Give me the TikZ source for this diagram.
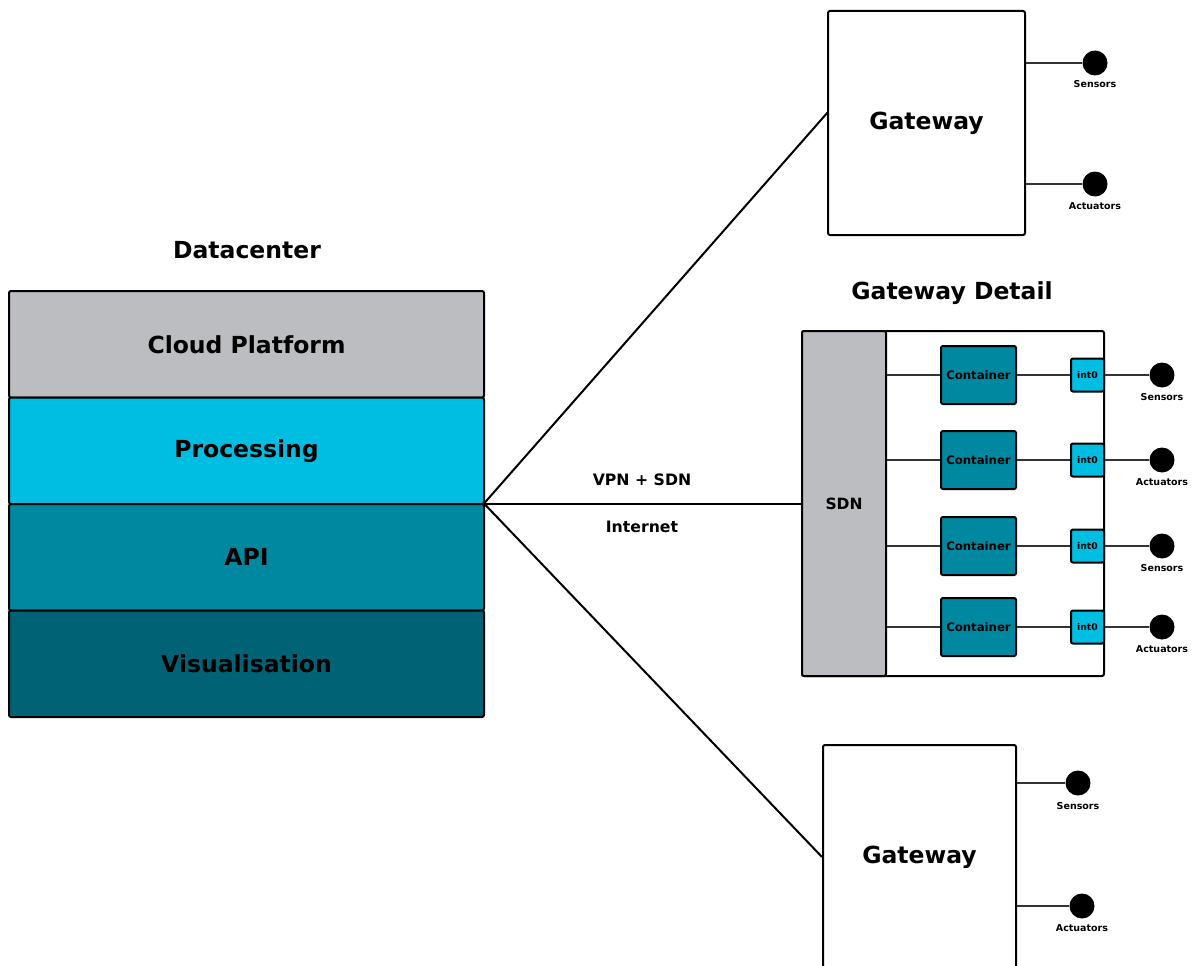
\documentclass[tikz,border=0pt]{standalone}
\usepackage{fontspec}
\setmainfont{DejaVu Sans}
\definecolor{cloudgray}{RGB}{188,189,193}
\definecolor{proccyan}{RGB}{0,189,226}
\definecolor{apiteal}{RGB}{0,136,160}
\definecolor{visteal}{RGB}{0,99,117}
\begin{document}
\begin{tikzpicture}[x=1pt,y=-1pt,
  box/.style={draw, line width=2pt, rounded corners=2pt, inner sep=0pt},
  layer/.style={box, minimum width=475pt, minimum height=106.5pt, font=\fontsize{23.5}{23.5}\selectfont\bfseries},
  title/.style={font=\fontsize{23.5}{23.5}\selectfont\bfseries},
  gwbox/.style={box, fill=white, minimum height=224pt, font=\fontsize{23.5}{23.5}\selectfont\bfseries},
  ctr/.style={box, fill=apiteal, minimum width=75pt, minimum height=58pt, font=\fontsize{11.7}{11.7}\selectfont\bfseries},
  iface/.style={box, fill=proccyan, minimum width=33pt, minimum height=33pt, font=\fontsize{9.3}{9.3}\selectfont\bfseries},
  endpt/.style={circle, fill=black, minimum size=25pt, inner sep=0pt},
  tiny/.style={font=\fontsize{9.5}{9.5}\selectfont\bfseries},
  midlbl/.style={font=\fontsize{15.7}{15.7}\selectfont\bfseries},
  link/.style={line width=2pt, black},
  wire/.style={line width=1.6pt, black!80}
]
\clip (0,0) rectangle (1192,966);
\fill[white] (0,0) rectangle (1192,966);

% Datacenter stack
\node[title] (dctitle) at (247,250) {Datacenter};
\node[layer, fill=cloudgray] (cloud) at (246.5,344.25) {Cloud Platform};
\node[layer, fill=proccyan]  (proc)  at (246.5,450.75) {Processing};
\node[layer, fill=apiteal]   (api)   at (246.5,557.25) {API};
\node[layer, fill=visteal]   (vis)   at (246.5,663.75) {Visualisation};
\coordinate (hub) at (484,503.5);

% Gateways
\node[gwbox, minimum width=197pt] (gw1) at (926.5,123) {Gateway};
\node[gwbox, minimum width=193pt] (gw2) at (919.5,857) {Gateway};
\coordinate (gw1in) at (828,112);

% Gateway detail
\node[title] (gdtitle) at (952,293) {Gateway Detail};
\node[box, minimum width=302pt, minimum height=345pt] (detail) at (953,503.5) {};
\node[box, fill=cloudgray, minimum width=84pt, minimum height=345pt,
      font=\fontsize{15.5}{15.5}\selectfont\bfseries] (sdn) at (844,503.5) {SDN};

% Links from the datacenter
\draw[link] (hub) -- (gw1in);
\draw[link] (hub) -- (sdn.west);
\draw[link] (hub) -- (gw2.west);
\node[midlbl] (vpn) at (642,480) {VPN + SDN};
\node[midlbl] (inet) at (642,527) {Internet};

% Container rows
\foreach \i/\y/\lbl in {1/375/Sensors, 2/460/Actuators, 3/546/Sensors, 4/627/Actuators}{
  \node[ctr] (c\i) at (978.5,\y) {Container};
  \node[iface] (i\i) at (1087.5,\y) {int0};
  \node[endpt] (e\i) at (1162,\y) {};
  \node[tiny] (l\i) at (1162,\y+22) {\lbl};
  \draw[wire] (sdn.east |- c\i) -- (c\i);
  \draw[wire] (c\i) -- (i\i);
  \draw[wire] (i\i) -- (e\i);
}

% Gateway 1 I/O
\node[endpt] (g1s) at (1095,63) {};
\node[tiny] (g1sl) at (1095,84) {Sensors};
\node[endpt] (g1a) at (1095,184) {};
\node[tiny] (g1al) at (1095,206) {Actuators};
\draw[wire] (gw1.east |- g1s) -- (g1s);
\draw[wire] (gw1.east |- g1a) -- (g1a);

% Gateway 2 I/O
\node[endpt] (g2s) at (1078,783) {};
\node[tiny] (g2sl) at (1078,806) {Sensors};
\node[endpt] (g2a) at (1082,906) {};
\node[tiny] (g2al) at (1082,928) {Actuators};
\draw[wire] (gw2.east |- g2s) -- (g2s);
\draw[wire] (gw2.east |- g2a) -- (g2a);
\end{tikzpicture}
\end{document}
